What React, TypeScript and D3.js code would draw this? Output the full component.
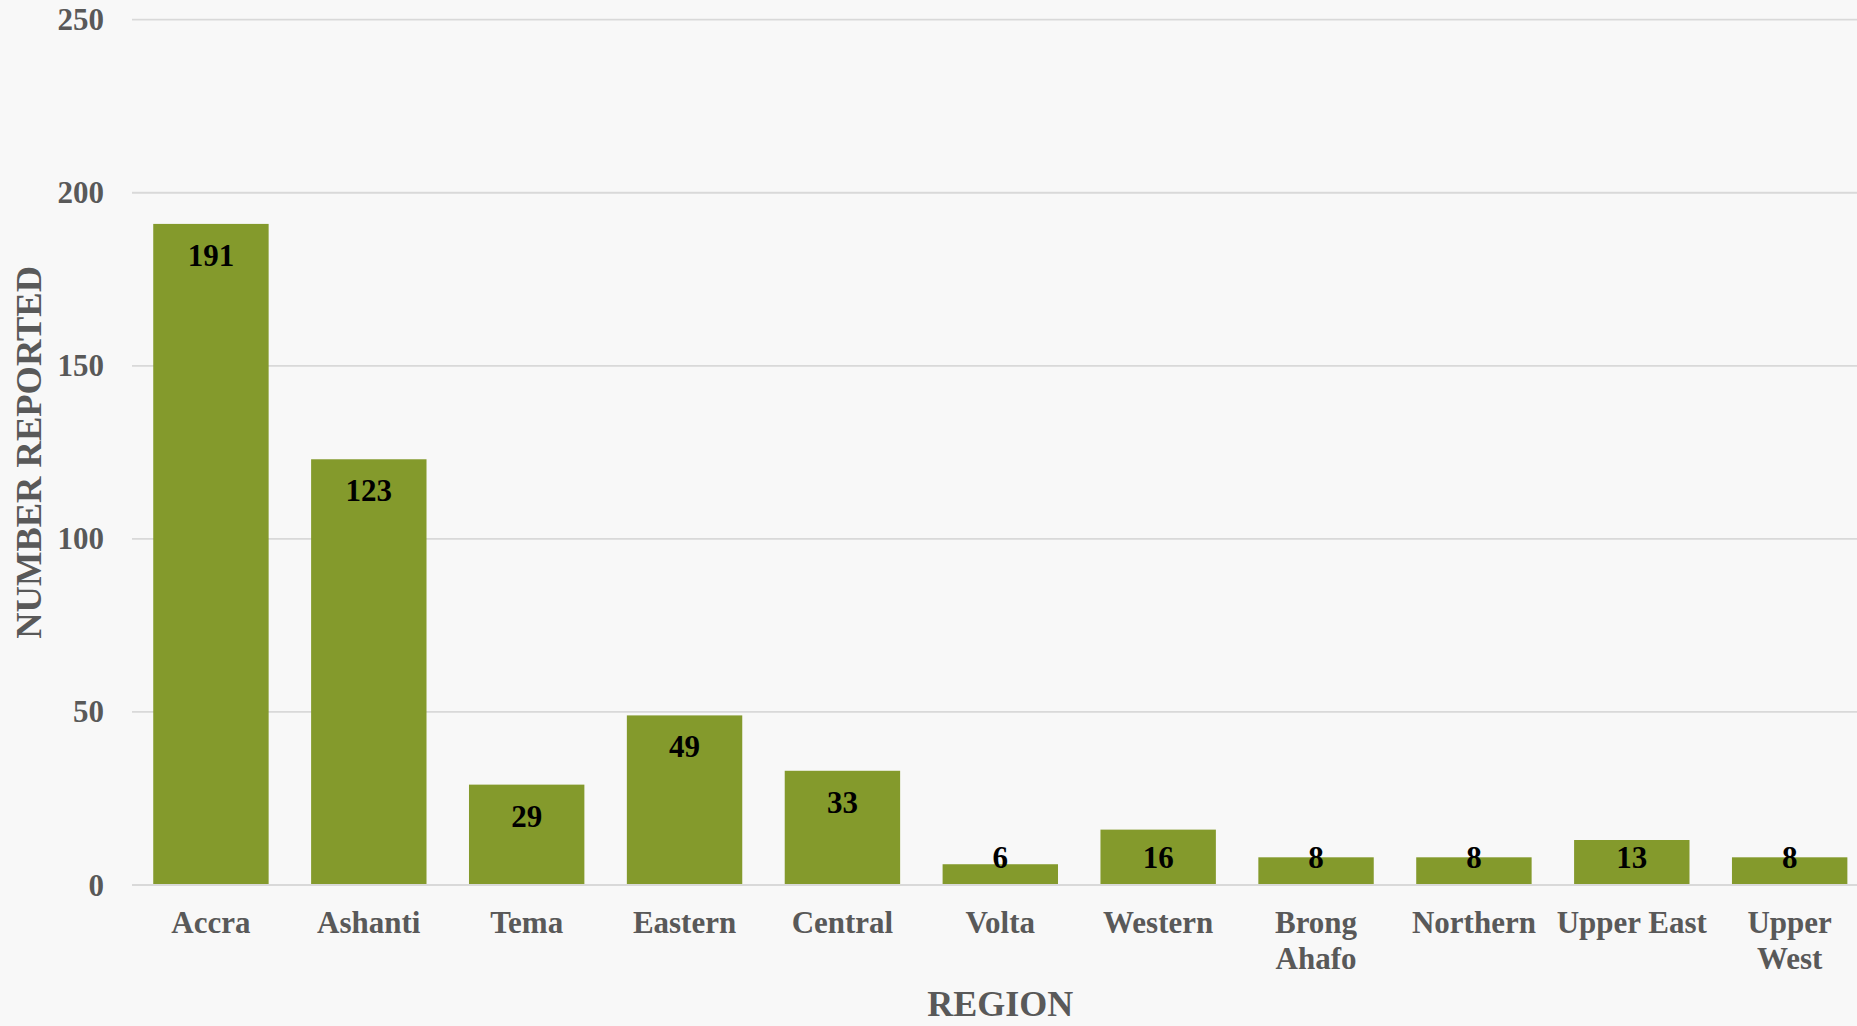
import React from "react";
import * as d3 from "d3";

const categories = ["Accra", "Ashanti", "Tema", "Eastern", "Central", "Volta", "Western", "Brong Ahafo", "Northern", "Upper East", "Upper West"];
const categoryLines = [["Accra"], ["Ashanti"], ["Tema"], ["Eastern"], ["Central"], ["Volta"], ["Western"], ["Brong", "Ahafo"], ["Northern"], ["Upper East"], ["Upper", "West"]];
const values = [191, 123, 29, 49, 33, 6, 16, 8, 8, 13, 8];
const yTicks = [0, 50, 100, 150, 200, 250];
const xTitle = "REGION";
const yTitle = "NUMBER REPORTED";

const W = 1857;
const H = 1026;
const FONT = "'Liberation Serif', 'Times New Roman', serif";

export default function App() {
  const x = d3.scaleBand<string>().domain(categories).range([132, 1868.6]).paddingInner(0.269).paddingOuter(0.1345);
  const y = d3.scaleLinear().domain([0, 250]).range([885, 19.7]);
  const bw = x.bandwidth();
  const plotCenter = (132 + 1868.6) / 2;
  return (
    <svg width={W} height={H} style={{ position: "fixed", left: 0, top: 0, background: "#f8f8f8" }} fontFamily={FONT}>
      <rect x={0} y={0} width={W} height={H} fill="#f8f8f8" />
      {yTicks.map((t) => (
        <g key={t}>
          <line x1={132} x2={W} y1={y(t)} y2={y(t)} stroke="#d9d9d9" strokeWidth={1.8} />
          <text x={104} y={y(t)} dy="0.34em" textAnchor="end" fontSize={31} fontWeight="bold" fill="#595959">{t}</text>
        </g>
      ))}
      {categories.map((c, i) => {
        const x0 = x(c)!;
        const top = y(values[i]);
        const labelY = Math.min(top + 42, y(0) - 17);
        return (
          <g key={c}>
            <rect x={x0} y={top} width={bw} height={y(0) - top} fill="#849a2c" />
            <text x={x0 + bw / 2} y={labelY} textAnchor="middle" fontSize={31} fontWeight="bold" fill="#000">{values[i]}</text>
            {categoryLines[i].map((ln, j) => (
              <text key={j} x={x0 + bw / 2} y={933 + j * 35.5} textAnchor="middle" fontSize={31} fontWeight="bold" fill="#595959">{ln}</text>
            ))}
          </g>
        );
      })}
      <line x1={132} x2={W} y1={y(0)} y2={y(0)} stroke="#d9d9d9" strokeWidth={1.8} />
      <text x={plotCenter} y={1016} textAnchor="middle" fontSize={36} fontWeight="bold" fill="#595959">{xTitle}</text>
      <text transform={`translate(41, ${(y(0) + y(250)) / 2}) rotate(-90)`} textAnchor="middle" fontSize={36.5} fontWeight="bold" fill="#595959">{yTitle}</text>
    </svg>
  );
}
